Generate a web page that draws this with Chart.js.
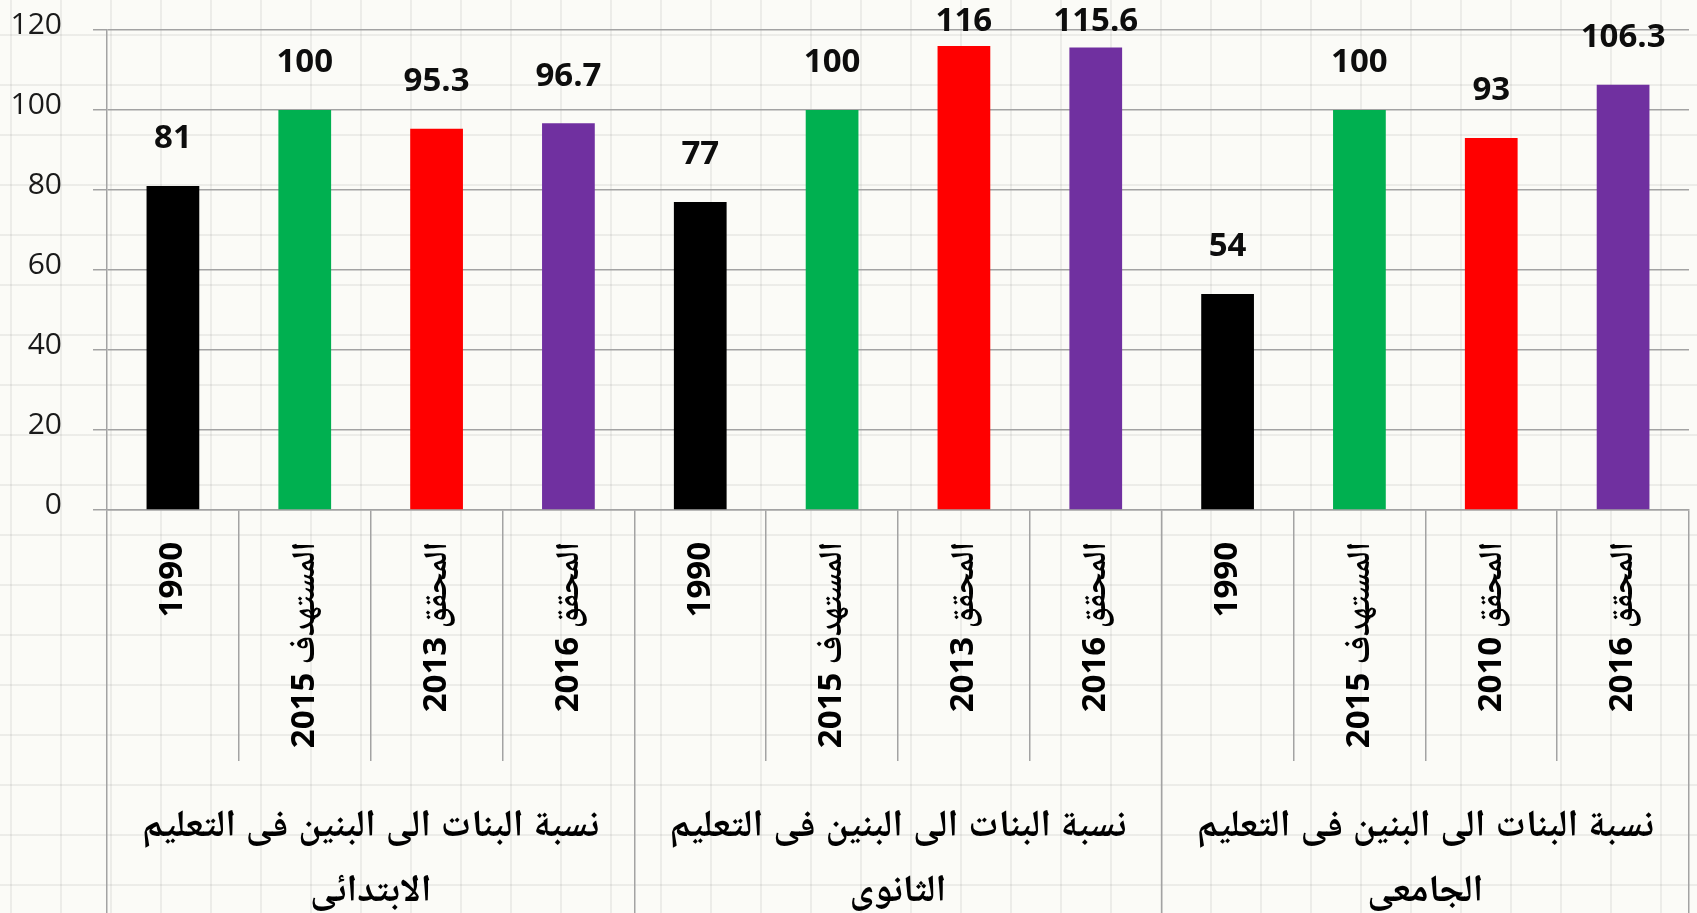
<!DOCTYPE html>
<html lang="ar">
<head>
<meta charset="utf-8">
<title>نسبة البنات الى البنين فى التعليم</title>
<script src="https://cdn.jsdelivr.net/npm/chart.js@4.4.1/dist/chart.umd.min.js"></script>
<style>
    html, body {
        margin: 0;
        padding: 0;
    }
    body {
        width: 1697px;
        height: 913px;
        overflow: hidden;
        background-color: #fbfbf7;
        /* faint sheet grid behind the chart */
        background-image:
            repeating-linear-gradient(to right, transparent 0 10px, rgba(0, 0, 0, 0.06) 10px 12px, transparent 12px 50px),
            repeating-linear-gradient(to bottom, transparent 0 34px, rgba(0, 0, 0, 0.06) 34px 36px, transparent 36px 50px);
    }
    #wrap {
        position: relative;
        width: 1697px;
        height: 913px;
    }
</style>
</head>
<body>
<div id="wrap"><canvas id="ratioChart"></canvas></div>

<script>
const categories = [
    '1990', 'المستهدف 2015', 'المحقق 2013', 'المحقق 2016',
    '1990', 'المستهدف 2015', 'المحقق 2013', 'المحقق 2016',
    '1990', 'المستهدف 2015', 'المحقق 2010', 'المحقق 2016'
];
const values = [81, 100, 95.3, 96.7, 77, 100, 116, 115.6, 54, 100, 93, 106.3];
const groups = [
    ['نسبة البنات الى البنين فى التعليم', 'الابتدائى'],
    ['نسبة البنات الى البنين فى التعليم', 'الثانوى'],
    ['نسبة البنات الى البنين فى التعليم', 'الجامعى']
];
const yTicks = [0, 20, 40, 60, 80, 100, 120];

const barColors = [
    '#000000', '#00b050', '#ff0000', '#7030a0',
    '#000000', '#00b050', '#ff0000', '#7030a0',
    '#000000', '#00b050', '#ff0000', '#7030a0'
];
const gridGray = '#a3a3a3';
const family = "'Open Sans', 'DejaVu Sans', sans-serif";
const arabicFamily = "'Open Sans', 'Noto Naskh Arabic', 'Noto Sans Arabic', 'DejaVu Sans Condensed', 'DejaVu Sans', sans-serif";

// numbers above the bars, kept inside the top of the canvas like excel does
const valueLabels = {
    id: 'valueLabels',
    afterDatasetsDraw(chart) {
        const ctx = chart.ctx;
        const meta = chart.getDatasetMeta(0);
        ctx.save();
        ctx.font = `bold 33px ${family}`;
        ctx.fillStyle = '#0d0d0d';
        ctx.textAlign = 'center';
        ctx.textBaseline = 'middle';
        meta.data.forEach((bar, i) => {
            const y = Math.max(bar.y - 47, 22);
            ctx.fillText(String(values[i]), bar.x, y);
        });
        ctx.restore();
    }
};

const ctxRatio = document.getElementById('ratioChart');
new Chart(ctxRatio, {
    type: 'bar',
    data: {
        labels: categories,
        datasets: [{
            data: values,
            backgroundColor: barColors,
            barPercentage: 0.4,
            categoryPercentage: 1
        }]
    },
    options: {
        responsive: true,
        maintainAspectRatio: false,
        animation: false,
        layout: { padding: { top: 30, right: 8, bottom: 0, left: 0 } },
        plugins: {
            legend: { display: false },
            tooltip: { enabled: false }
        },
        scales: {
            x: {
                grid: { offset: true, drawOnChartArea: false, tickLength: 251, color: gridGray, lineWidth: 1.5 },
                border: { color: gridGray, width: 1.5 },
                ticks: {
                    autoSkip: false,
                    minRotation: 90,
                    maxRotation: 90,
                    padding: -219,
                    color: '#000000',
                    font: { family: arabicFamily, size: 33, weight: 'bold' }
                },
                afterFit: (scale) => { scale.height = 251; }
            },
            groups: {
                type: 'category',
                labels: groups,
                position: 'bottom',
                offset: true,
                grid: { offset: true, drawOnChartArea: false, tickLength: 152, color: gridGray, lineWidth: 1.5 },
                border: { display: false },
                ticks: {
                    autoSkip: false,
                    maxRotation: 0,
                    padding: -120,
                    color: '#000000',
                    font: { family: arabicFamily, size: 38, weight: 'bold', lineHeight: 1.71 }
                },
                afterFit: (scale) => { scale.height = 152; }
            },
            y: {
                min: yTicks[0],
                max: yTicks[yTicks.length - 1],
                ticks: {
                    stepSize: yTicks[1] - yTicks[0],
                    padding: 31,
                    labelOffset: -5,
                    color: '#1a1a1a',
                    font: { family: family, size: 30 }
                },
                grid: { color: gridGray, lineWidth: 1.5, tickLength: 14 },
                border: { color: gridGray, width: 1.5 },
                afterFit: (scale) => {
                    scale.width = 107;
                    scale.paddingTop = 0;
                    scale.paddingBottom = 0;
                }
            }
        }
    },
    plugins: [valueLabels]
});
</script>
</body>
</html>
